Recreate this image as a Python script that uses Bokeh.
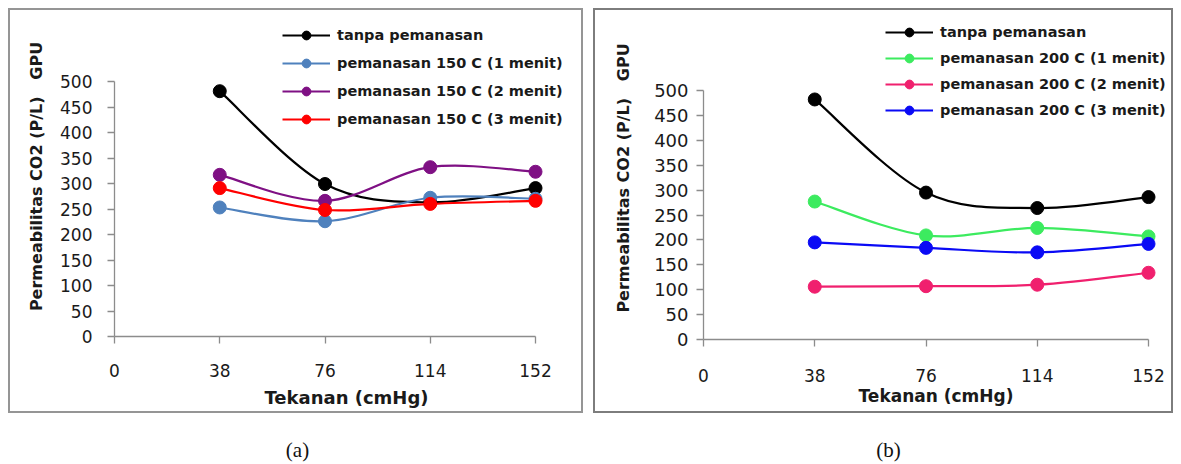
import numpy as np
from bokeh.plotting import figure
from bokeh.models import Range1d, FixedTicker, Legend, LegendItem, Label, ColumnDataSource
from bokeh.layouts import column, row
from bokeh.embed import file_html
from bokeh.resources import INLINE

# ---------------- data ----------------
pressure = [38, 76, 114, 152]
x_ticks = [0, 38, 76, 114, 152]
y_ticks = [0, 50, 100, 150, 200, 250, 300, 350, 400, 450, 500]
x_max = 152
y_max = 500

a_labels = ["tanpa pemanasan", "pemanasan 150 C (1 menit)",
            "pemanasan 150 C (2 menit)", "pemanasan 150 C (3 menit)"]
a_tanpa = [481, 299, 263, 291]
a_150_1 = [253, 226, 272, 270]
a_150_2 = [317, 266, 332, 323]
a_150_3 = [291, 248, 260, 266]
a_colors = ["#000000", "#4F81BD", "#7F1084", "#FF0000"]

b_labels = ["tanpa pemanasan", "pemanasan 200 C (1 menit)",
            "pemanasan 200 C (2 menit)", "pemanasan 200 C (3 menit)"]
b_tanpa = [482, 295, 264, 286]
b_200_1 = [277, 209, 224, 207]
b_200_2 = [106, 107, 110, 134]
b_200_3 = [195, 184, 175, 192]
b_colors = ["#000000", "#3CEB5F", "#F0206E", "#0A0AF5"]

captions = ["(a)", "(b)"]

FONT = "DejaVu Sans"


def smooth_source(xs, ys):
    """Bezier segments (Excel-style smoothed line) through the data points."""
    x = np.asarray(xs, float)
    y = np.asarray(ys, float)
    n = len(x)
    xp = np.concatenate([[x[0]], x, [x[-1]]])
    yp = np.concatenate([[y[0]], y, [y[-1]]])
    d = dict(x0=[], y0=[], x1=[], y1=[], cx0=[], cy0=[], cx1=[], cy1=[])
    for i in range(n - 1):
        j = i + 1
        d["x0"].append(x[i]); d["y0"].append(y[i])
        d["x1"].append(x[i + 1]); d["y1"].append(y[i + 1])
        d["cx0"].append(x[i] + (xp[j + 1] - xp[j - 1]) / 6.0)
        d["cy0"].append(y[i] + (yp[j + 1] - yp[j - 1]) / 6.0)
        d["cx1"].append(x[i + 1] - (xp[j + 2] - xp[j]) / 6.0)
        d["cy1"].append(y[i + 1] - (yp[j + 2] - yp[j]) / 6.0)
    return ColumnDataSource(d)


def panel(width, height, ml, mr, mt, mb, axis_px_x, axis_px_y,
          series, labels, colors, leg_loc, row_h,
          ytick_size, ylab_standoff, ytitle_standoff,
          xlab_standoff, xtitle_standoff, xtitle_size, border_color, margin):
    fw = width - ml - mr
    fh = height - mt - mb
    p = figure(width=width, height=height,
               x_range=Range1d(0, x_max * fw / axis_px_x),
               y_range=Range1d(0, y_max * fh / axis_px_y),
               toolbar_location=None, output_backend="svg",
               min_border_left=ml, min_border_right=mr,
               min_border_top=mt, min_border_bottom=mb)
    p.margin = margin
    p.styles = {"outline": f"2px solid {border_color}", "outline-offset": "0px"}
    p.outline_line_color = None
    p.grid.visible = False
    p.background_fill_color = "white"
    p.border_fill_color = "white"

    for ax in (p.xaxis[0], p.yaxis[0]):
        ax.axis_line_color = "#8C8C8C"
        ax.axis_line_width = 1.3
        ax.major_tick_line_color = "#8C8C8C"
        ax.major_tick_line_width = 1.3
        ax.major_tick_out = 7
        ax.major_tick_in = 0
        ax.minor_tick_line_color = None
        ax.major_label_text_font = FONT
        ax.major_label_text_font_size = "17px"
        ax.major_label_text_color = "#1a1a1a"
        ax.axis_label_text_font = FONT
        ax.axis_label_text_font_style = "bold"
        ax.axis_label_text_color = "#1a1a1a"

    p.yaxis.major_label_text_font_size = ytick_size
    p.xaxis.axis_label_text_font_size = xtitle_size
    p.yaxis.axis_label_text_font_size = "16px"
    p.xaxis.bounds = (0, x_max)
    p.yaxis.bounds = (0, y_max)
    p.xaxis.ticker = FixedTicker(ticks=x_ticks)
    p.yaxis.ticker = FixedTicker(ticks=y_ticks)
    p.xaxis.axis_label = "Tekanan (cmHg)"
    p.yaxis.axis_label = "Permeabilitas CO2 (P/L)\u00a0\u00a0\u00a0GPU"
    p.yaxis.major_label_standoff = ylab_standoff
    p.yaxis.axis_label_standoff = ytitle_standoff
    p.xaxis.major_label_standoff = xlab_standoff
    p.xaxis.axis_label_standoff = xtitle_standoff

    items = []
    for ys, lab, col in zip(series, labels, colors):
        src = smooth_source(pressure, ys)
        rb = p.bezier(x0="x0", y0="y0", x1="x1", y1="y1", cx0="cx0", cy0="cy0",
                      cx1="cx1", cy1="cy1", source=src, line_color=col, line_width=2.2)
        rs = p.scatter(pressure, ys, size=13, fill_color=col, line_color=col)
        items.append(LegendItem(label=lab, renderers=[rb, rs]))

    legend = Legend(items=items, location=leg_loc, padding=0, margin=0,
                    border_line_color=None, background_fill_alpha=0,
                    glyph_width=48, glyph_height=22, label_height=row_h,
                    spacing=0, label_standoff=7,
                    label_text_font=FONT, label_text_font_style="bold",
                    label_text_font_size="14.5px", label_text_color="#1a1a1a")
    p.add_layout(legend)
    return p


pa = panel(571, 401, 104, 3, 6, 75, 421, 255,
           [a_tanpa, a_150_1, a_150_2, a_150_3], a_labels, a_colors,
           (168, 203), 28, "17px", 15, 11, 20, 7, "18px", "#959595", (10, 0, 2, 10))
pb = panel(576, 401, 108, 3, 6, 72, 445, 249,
           [b_tanpa, b_200_1, b_200_2, b_200_3], b_labels, b_colors,
           (182, 216), 26, "18px", 8, 18, 22, 1, "17px", "#7d7d7d", (10, 0, 2, 14))

cap = figure(width=1181, height=51, x_range=Range1d(0, 1181), y_range=Range1d(0, 51),
             toolbar_location=None, output_backend="svg",
             min_border=0, min_border_left=0, min_border_right=0,
             min_border_top=0, min_border_bottom=0)
cap.axis.visible = False
cap.grid.visible = False
cap.outline_line_color = None
for cx, txt in zip([297, 888], captions):
    cap.add_layout(Label(x=cx, y=15, text=txt, text_align="center", text_baseline="middle",
                         text_font="Liberation Serif", text_font_size="21px",
                         text_color="#111111"))

layout = column(row(column(pa), column(pb)), cap)
open("out.html", "w").write(file_html(layout, INLINE))
